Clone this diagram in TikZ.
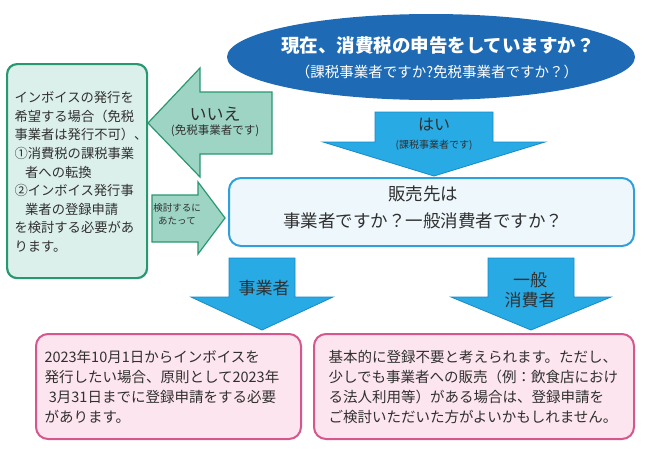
\documentclass[tikz,border=0pt]{standalone}
\usepackage{fontspec}
\setmainfont{Noto Sans CJK JP}
\usetikzlibrary{shapes.geometric}

\definecolor{askblue}{RGB}{30,106,180}
\definecolor{yesblue}{RGB}{40,170,228}
\definecolor{yesedge}{RGB}{24,138,200}
\definecolor{qedge}{RGB}{48,160,220}
\definecolor{qfill}{RGB}{238,247,252}
\definecolor{greenedge}{RGB}{40,152,112}
\definecolor{greenfill}{RGB}{220,240,235}
\definecolor{greenarrow}{RGB}{158,212,196}
\definecolor{pinkedge}{RGB}{214,86,142}
\definecolor{pinkfill}{RGB}{252,229,238}
\definecolor{ink}{RGB}{48,48,48}

\newcommand{\fsz}[2]{\fontsize{#1}{#2}\selectfont}

\tikzset{
	blue arrow/.style  = {fill=yesblue, draw=yesedge, line width=0.8pt, line join=miter},
	green arrow/.style = {fill=greenarrow, draw=greenedge, line width=1.2pt, line join=miter},
	green box/.style   = {draw=greenedge, fill=greenfill, line width=2.2pt, rounded corners=10pt},
	pink box/.style    = {draw=pinkedge, fill=pinkfill, line width=2pt, rounded corners=12pt},
	ask box/.style     = {draw=qedge, fill=qfill, line width=2pt, rounded corners=12pt},
}

\begin{document}
\begin{tikzpicture}[x=1pt, y=-1pt, every node/.style={text=ink}]
	\useasboundingbox[fill=white] (0,0) rectangle (645,450);
	% question on top
	\node[ellipse, fill=askblue, minimum width=408, minimum height=86, inner sep=0] (ask) at (431,57) {};
	\node[text=white, font=\bfseries\fsz{18.5}{22}] (askq) at (438,46) {現在、消費税の申告をしていますか？};
	\node[text=white, font=\fsz{14.5}{17}] (asksub) at (437,72) {（課税事業者ですか?免税事業者ですか？）};

	% yes
	\draw[blue arrow] (375,112) -- (493,112) -- (493,142) -- (545,142) -- (434,176) -- (323,142) -- (375,142) -- cycle;
	\node[font=\fsz{16}{18}] (yes) at (434,125) {はい};
	\node[font=\fsz{10}{12}] (yessub) at (434,145) {(課税事業者です)};

	% second question
	\node[ask box, minimum width=405, minimum height=68] (buyer) at (431.5,212) {};
	\node[font=\fsz{17.5}{27}, align=center] (buyert) at (423,207) {販売先は\\事業者ですか？一般消費者ですか？};

	% no
	\node[green box, minimum width=140, minimum height=214, anchor=north west] (invoice) at (6,63) {};
	\node[font=\fsz{13.3}{18.6}, align=left, anchor=west] (invoicet) at (11,172) {インボイスの発行を\\希望する場合（免税\\事業者は発行不可）、\\①消費税の課税事業\\\hspace*{0.8em}者への転換\\②インボイス発行事\\\hspace*{0.8em}業者の登録申請\\を検討する必要があ\\ります。};
	\draw[green arrow] (272,92) -- (272,154) -- (200,154) -- (200,177) -- (148,123) -- (200,68) -- (200,92) -- cycle;
	\node[font=\fsz{17}{19}] (no) at (215,114) {いいえ};
	\node[font=\fsz{11.5}{13}] (nosub) at (215,131) {(免税事業者です)};
	\draw[green arrow] (152,195) -- (198,195) -- (198,182) -- (225,218) -- (198,254) -- (198,242) -- (152,242) -- cycle;
	\node[font=\fsz{9.5}{13}, align=center] (consider) at (177,214) {検討するに\\あたって};

	% business / consumer
	\draw[blue arrow] (229,258) -- (295,258) -- (295,297) -- (333,297) -- (262,330) -- (191,297) -- (229,297) -- cycle;
	\node[font=\fsz{17}{19}] (biz) at (264,288) {事業者};
	\draw[blue arrow] (488,258) -- (574,258) -- (574,297) -- (611,297) -- (531,330) -- (451,297) -- (488,297) -- cycle;
	\node[font=\fsz{17}{20}, align=center] (cons) at (530,290) {一般\\消費者};

	% answers
	\node[pink box, minimum width=265, minimum height=105, anchor=north west] (bizans) at (35,333) {};
	\node[font=\fsz{14.5}{20}, align=left, anchor=west] (bizanst) at (41,387) {2023年10月1日からインボイスを\\発行したい場合、原則として2023年\\\hspace*{0.3em}3月31日までに登録申請をする必要\\があります。};
	\node[pink box, minimum width=320, minimum height=105, anchor=north west] (consans) at (313,333) {};
	\node[font=\fsz{14.5}{20}, align=left, anchor=west] (consanst) at (325,387) {基本的に登録不要と考えられます。ただし、\\少しでも事業者への販売（例：飲食店におけ\\る法人利用等）がある場合は、登録申請を\\ご検討いただいた方がよいかもしれません。};
\end{tikzpicture}
\end{document}
